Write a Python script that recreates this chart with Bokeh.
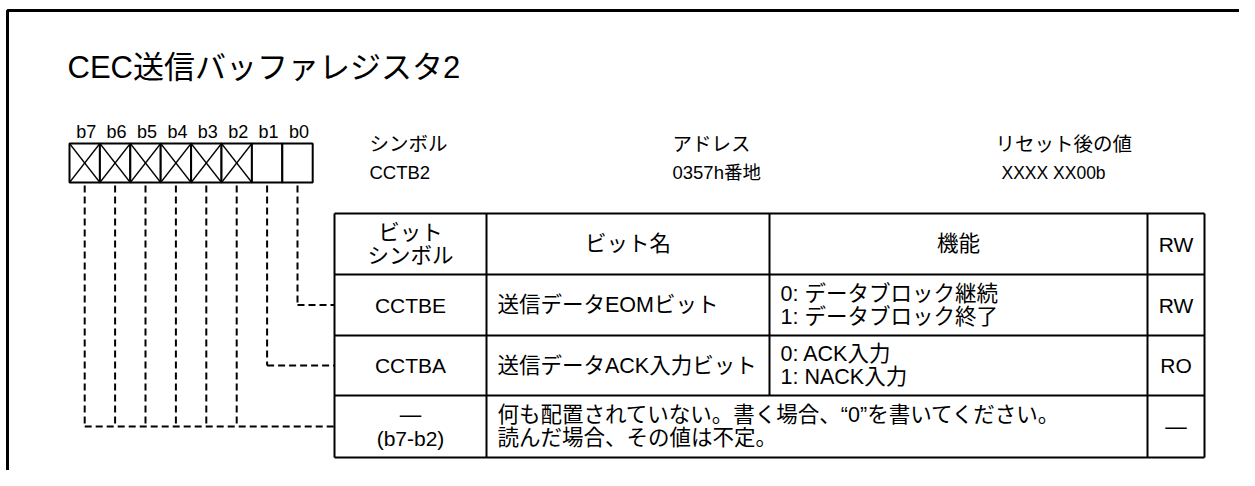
from bokeh.plotting import figure
from bokeh.models import Range1d
from bokeh.core.properties import value
from bokeh.embed import file_html
from bokeh.resources import INLINE

# ---------------- data ----------------
title = "CEC送信バッファレジスタ2"
bit_labels = ["b7", "b6", "b5", "b4", "b3", "b2", "b1", "b0"]
bit_reserved = [True, True, True, True, True, True, False, False]
info_headers = ["シンボル", "アドレス", "リセット後の値"]
info_values = ["CCTB2", "0357h番地", "XXXX XX00b"]
col_headers = [["ビット", "シンボル"], ["ビット名"], ["機能"], ["RW"]]
row_symbols = [["CCTBE"], ["CCTBA"], ["—", "(b7-b2)"]]
row_names = ["送信データEOMビット", "送信データACK入力ビット", None]
row_functions = [["0: データブロック継続", "1: データブロック終了"],
                 ["0: ACK入力", "1: NACK入力"],
                 ["何も配置されていない。書く場合、“0”を書いてください。", "読んだ場合、その値は不定。"]]
row_rw = ["RW", "RO", "—"]
row_bits = [["b0"], ["b1"], ["b7", "b6", "b5", "b4", "b3", "b2"]]

# ---------------- layout ----------------
FONT = value("Liberation Sans, Noto Sans CJK JP")
W, H = 1239, 470
p = figure(width=W, height=H, output_backend="svg", toolbar_location=None,
           x_range=Range1d(0, W), y_range=Range1d(H, 0),
           min_border=0, outline_line_color=None)
p.axis.visible = False
p.grid.visible = False
p.background_fill_color = "white"

# outer frame
p.line([7, 7, 1300], [520, 10, 10], line_width=3, line_color="black")

# title
p.text([67], [67], text=[title], text_font=FONT, text_font_size="31px",
       text_align="left", text_baseline="middle", text_color="black")

# bit cells
cx0, cw, cy0, cy1 = 69.0, 30.4, 143.0, 182.0
centers = {}
for i, (lab, res) in enumerate(zip(bit_labels, bit_reserved)):
    x0 = cx0 + i * cw
    x1 = x0 + cw
    centers[lab] = (x0 + x1) / 2
    p.quad(left=[x0], right=[x1], top=[cy0], bottom=[cy1], fill_color="white",
           line_color="black", line_width=2)
    if res:
        p.multi_line([[x0, x1], [x0, x1]], [[cy0, cy1], [cy1, cy0]],
                     line_color="black", line_width=1.3)
    p.text([centers[lab] + 1.5], [131], text=[lab], text_font=FONT, text_font_size="18px",
           text_align="center", text_baseline="middle", text_color="black")

# info headers
info_x = [369, 672, 995]
info_vx = [369, 672, 1001]
info_vs = ["18.5px", "18.5px", "17.5px"]
for hx, vx, h, v, vs in zip(info_x, info_vx, info_headers, info_values, info_vs):
    p.text([hx], [143], text=[h], text_font=FONT, text_font_size="19.5px",
           text_align="left", text_baseline="middle", text_color="black")
    p.text([vx], [172], text=[v], text_font=FONT, text_font_size=vs,
           text_align="left", text_baseline="middle", text_color="black")

# table
tx = [334, 486, 769, 1147, 1204]
ty = [213, 274, 335, 395, 457]
for y in ty:
    p.line([tx[0], tx[-1]], [y, y], line_color="black", line_width=2)
for j, x in enumerate(tx):
    y_end = ty[3] if j == 2 else ty[-1]
    p.line([x, x], [ty[0], y_end], line_color="black", line_width=2)

LH = 23

def is_latin(s):
    return all(ord(c) < 0x2000 for c in s)

def put(x, y, s, align="center"):
    size = "21px" if is_latin(s) else "21.5px"
    p.text([x], [y], text=[s], text_font=FONT, text_font_size=size,
           text_align=align, text_baseline="middle", text_color="black")

def put_lines(x, yc, lines, align="center"):
    n = len(lines)
    for k, s in enumerate(lines):
        put(x, yc + (k - (n - 1) / 2) * LH, s, align)

col_cx = [(tx[k] + tx[k + 1]) / 2 for k in range(4)]
hyc = (ty[0] + ty[1]) / 2
for k in range(4):
    put_lines(col_cx[k], hyc, col_headers[k])

for r in range(3):
    yc = (ty[r + 1] + ty[r + 2]) / 2
    put_lines(col_cx[0], yc, row_symbols[r])
    if row_names[r] is not None:
        put(tx[1] + 11, yc, row_names[r], "left")
        put_lines(tx[2] + 11, yc, row_functions[r], "left")
    else:
        put_lines(tx[1] + 11, yc, row_functions[r], "left")
    put(col_cx[3], yc, row_rw[r])

    # dashed connectors
    bx = [centers[b] for b in row_bits[r]]
    for x in bx:
        p.line([x, x], [cy1 + 3, yc], line_color="black", line_width=2, line_dash="7 4")
    p.line([min(bx), tx[0]], [yc, yc], line_color="black", line_width=2, line_dash="7 4")

open("out.html", "w").write(file_html(p, INLINE))
